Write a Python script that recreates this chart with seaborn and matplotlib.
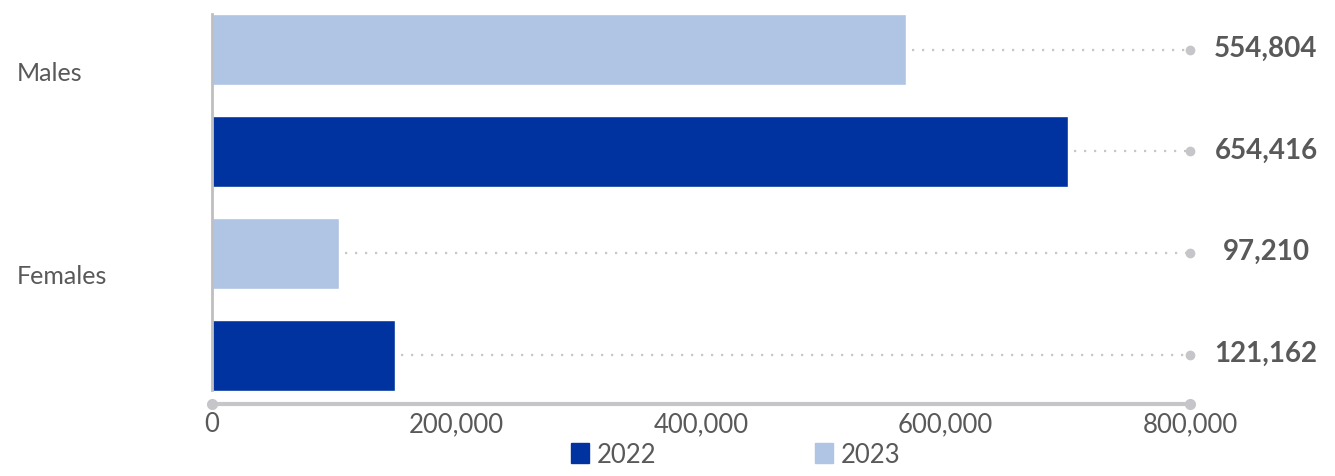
import numpy as np
import pandas as pd
import matplotlib
matplotlib.use('Agg')
import matplotlib.pyplot as plt
from matplotlib.patches import Patch
import seaborn as sns

# data
sexes = ['Males', 'Females']
years = ['2023', '2022']          # 2023 bar sits on top of each pair
# bar lengths as drawn (the source bars don't match the printed numbers exactly)
bars_2023 = [567700, 103900]
bars_2022 = [700200, 149700]
labels_2023 = ['554,804', '97,210']
labels_2022 = ['654,416', '121,162']
x_ticks = [0, 200000, 400000, 600000, 800000]
x_ticklabels = ['0', '200,000', '400,000', '600,000', '800,000']

dark_blue = '#0033A0'
light_blue = '#B0C4E4'
text_grey = '#595959'
line_grey = '#C6C6CA'

df = pd.DataFrame({
    'sex': sexes * 2,
    'year': ['2023'] * 2 + ['2022'] * 2,
    'value': bars_2023 + bars_2022,
    'label': labels_2023 + labels_2022,
})

sns.set_style('white')
plt.rcParams['font.family'] = ['Lato', 'DejaVu Sans']

fig = plt.figure(figsize=(13.35, 4.77), dpi=100)
ax = fig.add_axes([0.1588, 0.1509, 0.7326, 0.8176])

sns.barplot(data=df, y='sex', x='value', hue='year', order=sexes, hue_order=years,
            palette={'2023': light_blue, '2022': dark_blue}, orient='h',
            width=1.0, gap=0.30, saturation=1, errorbar=None, legend=False, ax=ax)

ax.set_xlim(x_ticks[0], x_ticks[-1])
ax.set_ylim(1.49, -0.425)

# dotted leaders to the value labels on the right
for year, cont in zip(years, ax.containers):
    labels = df[df.year == year]['label'].tolist()
    for bar, lab in zip(cont, labels):
        yc = bar.get_y() + bar.get_height() / 2
        end = bar.get_width()
        ax.plot([end + 5000, x_ticks[-1]], [yc, yc], ls=(0, (1, 3.5)), lw=1.6,
                color=line_grey, clip_on=False)
        ax.plot(x_ticks[-1], yc, 'o', ms=6, color=line_grey, clip_on=False)
        ax.annotate(lab, (x_ticks[-1], yc), xytext=(76, 2), textcoords='offset pixels',
                    ha='center', va='center', fontsize=20, fontweight='bold',
                    color=text_grey)

# axes styling
for side in ['top', 'right']:
    ax.spines[side].set_visible(False)
ax.spines['left'].set_color('#BFBFBF')
ax.spines['left'].set_linewidth(2)
ax.spines['left'].set_bounds(-0.425, 1.42)
ax.spines['bottom'].set_color(line_grey)
ax.spines['bottom'].set_linewidth(3)
ax.spines['bottom'].set_capstyle('round')
ax.plot([x_ticks[0], x_ticks[-1]], [1.49, 1.49], 'o', ms=7, color=line_grey, clip_on=False)

ax.set_xticks(x_ticks)
ax.set_xticklabels(x_ticklabels, fontsize=18.5, color=text_grey)
ax.tick_params(axis='x', length=0, pad=5)

bar_centres = [b.get_y() + b.get_height() / 2 for c in ax.containers for b in c]
ax.set_yticks(bar_centres)
ax.set_yticklabels([])
ax.tick_params(axis='y', length=3, width=1, color='#D0D0D0')
ax.set_xlabel('')
ax.set_ylabel('')

# category names sit a bit above the middle of each pair
for i, name in enumerate(sexes):
    ax.text(-0.2, i - 0.14, name, transform=ax.get_yaxis_transform(),
            ha='left', va='center', fontsize=18, color=text_grey)

handles = [Patch(color=dark_blue, label='2022'), Patch(color=light_blue, label='2023')]
fig.legend(handles=handles, loc='lower center', bbox_to_anchor=(0.551, -0.008), ncol=2,
           frameon=False, fontsize=18.5, handlelength=0.7, handleheight=0.8,
           handletextpad=0.3, columnspacing=6.2, borderpad=0, labelcolor=text_grey)

fig.savefig('out.png', dpi=100)
